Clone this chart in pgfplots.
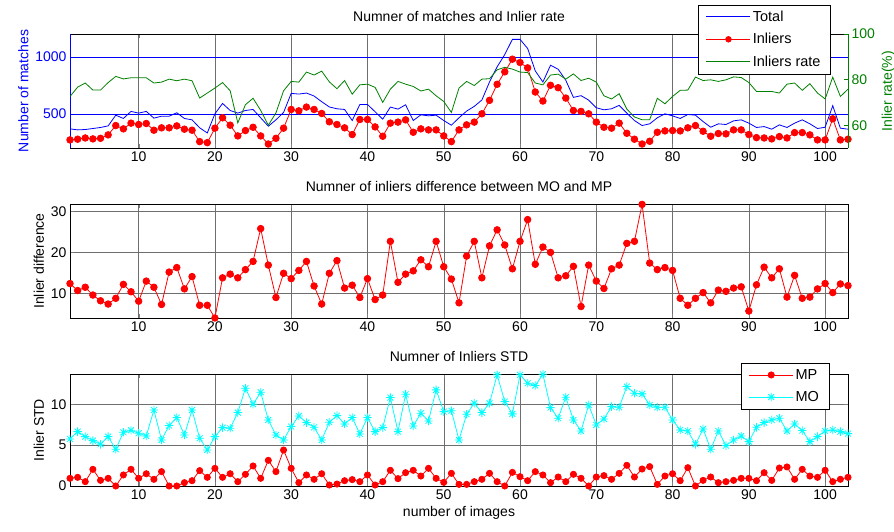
\documentclass[border=0pt]{standalone}
\usepackage{fontspec}
\setmainfont{Liberation Sans}
\usepackage{pgfplots}
\usepackage{pgfplotstable}
\pgfplotsset{compat=1.18}

\definecolor{mblue}{RGB}{0,0,255}
\definecolor{mred}{RGB}{255,0,0}
\definecolor{mgreen}{RGB}{0,128,0}
\definecolor{mcyan}{RGB}{0,255,255}
\definecolor{mgrid}{RGB}{110,110,110}

% matlab style '*' marker: a plus and a cross
\pgfdeclareplotmark{mstar}{%
  \pgfpathmoveto{\pgfqpoint{-\pgfplotmarksize}{0pt}}%
  \pgfpathlineto{\pgfqpoint{\pgfplotmarksize}{0pt}}%
  \pgfpathmoveto{\pgfqpoint{0pt}{-\pgfplotmarksize}}%
  \pgfpathlineto{\pgfqpoint{0pt}{\pgfplotmarksize}}%
  \pgfpathmoveto{\pgfqpoint{-.7\pgfplotmarksize}{-.7\pgfplotmarksize}}%
  \pgfpathlineto{\pgfqpoint{.7\pgfplotmarksize}{.7\pgfplotmarksize}}%
  \pgfpathmoveto{\pgfqpoint{-.7\pgfplotmarksize}{.7\pgfplotmarksize}}%
  \pgfpathlineto{\pgfqpoint{.7\pgfplotmarksize}{-.7\pgfplotmarksize}}%
  \pgfusepathqstroke}

% matches: total, inliers, inlier rate (%)
\pgfplotstableread{
x total inl rate
1 368 271 72.6
2 359 277 76.7
3 362 288 78.5
4 371 280 75.4
5 380 285 75.4
6 394 315 78.7
7 488 397 81.4
8 459 368 80.3
9 521 418 80.8
10 506 406 80.8
11 521 415 80.8
12 462 356 78.5
13 479 377 78.9
14 479 377 80.2
15 509 394 79.5
16 459 365 80.2
17 447 356 79.5
18 377 256 71.9
19 332 247 74.1
20 500 374 76.3
21 591 465 78.7
22 529 400 75.1
23 506 306 61.0
24 529 353 69.0
25 538 382 71.8
26 465 306 66.5
27 391 235 60.0
28 447 285 65.4
29 512 374 75.1
30 679 538 79.2
31 673 526 78.9
32 682 559 83.3
33 656 538 82.0
34 606 503 83.7
35 560 430 79.0
36 544 406 76.0
37 538 377 79.6
38 441 318 73.6
39 582 450 77.7
40 582 450 78.0
41 518 385 76.6
42 453 303 70.0
43 559 418 75.8
44 541 427 79.2
45 579 447 78.0
46 441 338 77.0
47 491 368 75.0
48 482 359 75.8
49 488 359 72.9
50 441 306 70.4
51 400 256 65.6
52 465 359 76.3
53 524 403 79.2
54 565 427 77.4
55 621 500 80.2
56 779 618 80.4
57 912 759 84.3
58 1020 868 85.4
59 1153 979 84.6
60 1153 950 83.3
61 1073 903 83.1
62 876 691 78.5
63 779 612 77.7
64 926 750 82.0
65 891 729 82.4
66 794 638 80.2
67 644 529 82.5
68 659 521 79.6
69 620 500 80.6
70 553 427 78.9
71 535 382 72.9
72 544 374 71.5
73 574 418 73.8
74 506 329 67.1
75 441 277 63.6
76 397 235 62.4
77 412 259 62.4
78 465 338 71.8
79 500 350 69.4
80 482 353 72.6
81 459 350 75.3
82 494 377 75.4
83 488 397 81.1
84 432 347 79.6
85 382 303 79.9
86 412 327 79.2
87 406 324 79.9
88 438 359 81.2
89 447 359 80.9
90 418 318 78.7
91 380 291 74.8
92 388 288 74.8
93 365 280 74.8
94 403 300 74.1
95 380 288 78.0
96 418 335 78.5
97 447 335 75.3
98 412 315 78.2
99 371 271 74.1
100 382 271 71.5
101 571 456 81.1
102 374 271 72.6
103 365 277 75.8
}\topdata

% inlier difference between MO and MP
\pgfplotstableread{
x d
1 12.4
2 10.7
3 11.5
4 9.6
5 8.2
6 7.4
7 8.8
8 12.2
9 10.4
10 8.1
11 13.0
12 11.5
13 7.3
14 15.2
15 16.3
16 11.1
17 14.1
18 7.1
19 7.1
20 4.0
21 13.8
22 14.7
23 13.8
24 15.8
25 17.8
26 25.8
27 16.9
28 9.0
29 14.9
30 13.6
31 15.6
32 17.8
33 11.8
34 7.4
35 14.9
36 18.0
37 11.3
38 12.0
39 9.0
40 13.6
41 8.5
42 9.6
43 22.7
44 12.7
45 14.7
46 15.5
47 18.2
48 16.5
49 22.7
50 16.5
51 13.5
52 7.7
53 19.1
54 22.7
55 13.8
56 21.6
57 25.5
58 21.8
59 16.0
60 22.7
61 28.0
62 17.1
63 21.3
64 20.0
65 13.8
66 14.3
67 16.6
68 6.8
69 16.9
70 13.0
71 11.2
72 16.0
73 16.9
74 22.2
75 22.7
76 31.7
77 17.4
78 15.8
79 16.3
80 15.6
81 8.8
82 7.1
83 8.8
84 10.2
85 7.7
86 10.8
87 10.5
88 11.3
89 11.6
90 5.7
91 12.1
92 16.4
93 13.8
94 16.0
95 9.1
96 14.4
97 8.8
98 9.1
99 11.1
100 12.4
101 10.2
102 12.3
103 11.9
}\diffdata

% inlier STD of MP and MO
\pgfplotstableread{
x mp mo
1 0.94 5.76
2 1.06 6.65
3 0.53 6.04
4 2.04 5.55
5 0.69 5.10
6 0.94 6.04
7 0.00 4.49
8 1.35 6.57
9 2.04 6.82
10 0.94 6.45
11 1.50 6.12
12 0.82 9.30
13 1.76 5.63
14 0.00 7.39
15 0.00 8.37
16 0.41 6.24
17 0.65 9.30
18 1.88 5.84
19 1.06 4.41
20 2.16 6.04
21 1.06 7.14
22 1.50 7.06
23 0.53 8.98
24 1.43 11.96
25 2.45 10.00
26 0.94 11.47
27 3.14 8.08
28 1.76 6.24
29 4.40 5.63
30 2.16 7.27
31 0.41 8.57
32 1.35 7.76
33 0.82 7.18
34 1.50 5.63
35 0.12 7.80
36 0.24 8.61
37 0.65 7.59
38 0.78 8.37
39 0.53 6.37
40 1.35 8.37
41 0.12 6.65
42 0.53 7.14
43 1.92 10.82
44 0.90 6.65
45 1.63 11.22
46 1.92 7.35
47 1.22 8.90
48 2.16 7.96
49 0.94 11.76
50 0.45 9.10
51 1.55 9.20
52 0.20 5.63
53 0.20 8.78
54 0.53 10.12
55 0.82 8.98
56 1.55 10.12
57 0.53 13.60
58 0.00 10.33
59 1.67 8.82
60 1.14 13.60
61 0.65 12.57
62 1.76 12.29
63 1.35 13.67
64 0.41 9.59
65 1.10 8.29
66 0.53 10.86
67 1.43 8.08
68 0.94 6.73
69 0.00 9.92
70 1.10 7.47
71 1.27 8.20
72 0.82 9.71
73 1.55 9.63
74 2.53 12.16
75 1.10 11.35
76 2.08 11.27
77 2.37 9.92
78 0.20 9.63
79 1.22 9.63
80 1.50 8.08
81 0.65 6.86
82 2.24 6.73
83 0.00 5.10
84 0.69 6.98
85 1.10 4.49
86 0.41 6.73
87 0.53 4.94
88 0.69 5.63
89 0.94 6.12
90 0.94 5.43
91 0.65 7.18
92 1.63 7.76
93 0.69 8.08
94 2.20 8.29
95 2.33 6.73
96 0.82 7.59
97 2.04 6.78
98 1.22 5.43
99 1.06 6.04
100 1.92 6.73
101 0.53 6.86
102 0.82 6.65
103 1.06 6.41
}\stddata

\pgfplotsset{
  mat/.style={
    scale only axis, width=778pt, height=114pt,
    xmin=1, xmax=103,
    xtick={10,20,...,100},
    tick align=inside,
    major tick length=4pt,
    font=\fontsize{14}{16}\selectfont,
    /pgf/number format/assume math mode=true,
    /pgf/number format/1000 sep={},
    title style={yshift=3pt},
    every axis plot/.append style={line width=0.8pt},
    legend style={draw=black, fill=white, font=\fontsize{14.5}{16}\selectfont,
      cells={anchor=west}, inner xsep=8pt, inner ysep=4pt, row sep=6.5pt},
    legend image code/.code={\draw[mark repeat=2,mark phase=2,#1]
      plot coordinates {(0pt,0pt) (22pt,0pt) (44pt,0pt)};},
  },
}

\begin{document}
\begin{tikzpicture}
\useasboundingbox (0pt,0pt) rectangle (894pt,531pt);

% top: matches and inlier rate
\begin{axis}[mat, at={(70pt,383pt)}, anchor=south west,
  ymin=200, ymax=1200, ytick={500,1000},
  separate axis lines,
  y axis line style={mblue},
  ytick style={mblue},
  yticklabel style={mblue},
  ylabel={Number of matches}, ylabel style={mblue},
  xmajorgrids, ymajorgrids,
  x grid style={mgrid}, y grid style={mblue},
  title={Numner of matches and Inlier rate},
]
\addplot[mblue] table[x=x, y=total] {\topdata};
\addplot[mred, mark=*, mark size=3.3pt] table[x=x, y=inl] {\topdata};
\end{axis}
\begin{axis}[mat, at={(70pt,383pt)}, anchor=south west,
  axis x line=none, axis y line*=right,
  ymin=50, ymax=100, ytick={60,80,100},
  y axis line style={mgreen},
  ytick style={mgreen},
  yticklabel style={mgreen},
  ylabel={Inlier rate(\%)}, ylabel style={mgreen},
  legend style={at={(0.807,1.258)}, anchor=north west},
]
\addlegendimage{mblue, line width=0.8pt}
\addlegendentry{Total}
\addlegendimage{mred, line width=0.8pt, mark=*, mark size=2.8pt}
\addlegendentry{Inliers}
\addplot[mgreen] table[x=x, y=rate] {\topdata};
\addlegendentry{Inliers rate}
\end{axis}

% middle: inlier difference
\begin{axis}[mat, at={(70pt,213pt)}, anchor=south west,
  ymin=4, ymax=31.8, ytick={10,20,30},
  grid=major, grid style={mgrid},
  ylabel={Inlier difference},
  title={Numner of inliers difference between MO and MP},
]
\addplot[mred, mark=*, mark size=3.3pt] table[x=x, y=d] {\diffdata};
\end{axis}

% bottom: STD
\begin{axis}[mat, at={(70pt,45pt)}, anchor=south west, height=112pt,
  ymin=0, ymax=13.7, ytick={0,5,10},
  grid=major, grid style={mgrid},
  ylabel={Inlier STD},
  xlabel={number of images},
  title={Numner of Inliers STD},
  legend style={at={(0.862,1.098)}, anchor=north west},
]
\addplot[mred, mark=*, mark size=3.1pt] table[x=x, y=mp] {\stddata};
\addlegendentry{MP}
\addplot[mcyan, mark=mstar, mark size=4.2pt] table[x=x, y=mo] {\stddata};
\addlegendentry{MO}
\end{axis}
\end{tikzpicture}
\end{document}
